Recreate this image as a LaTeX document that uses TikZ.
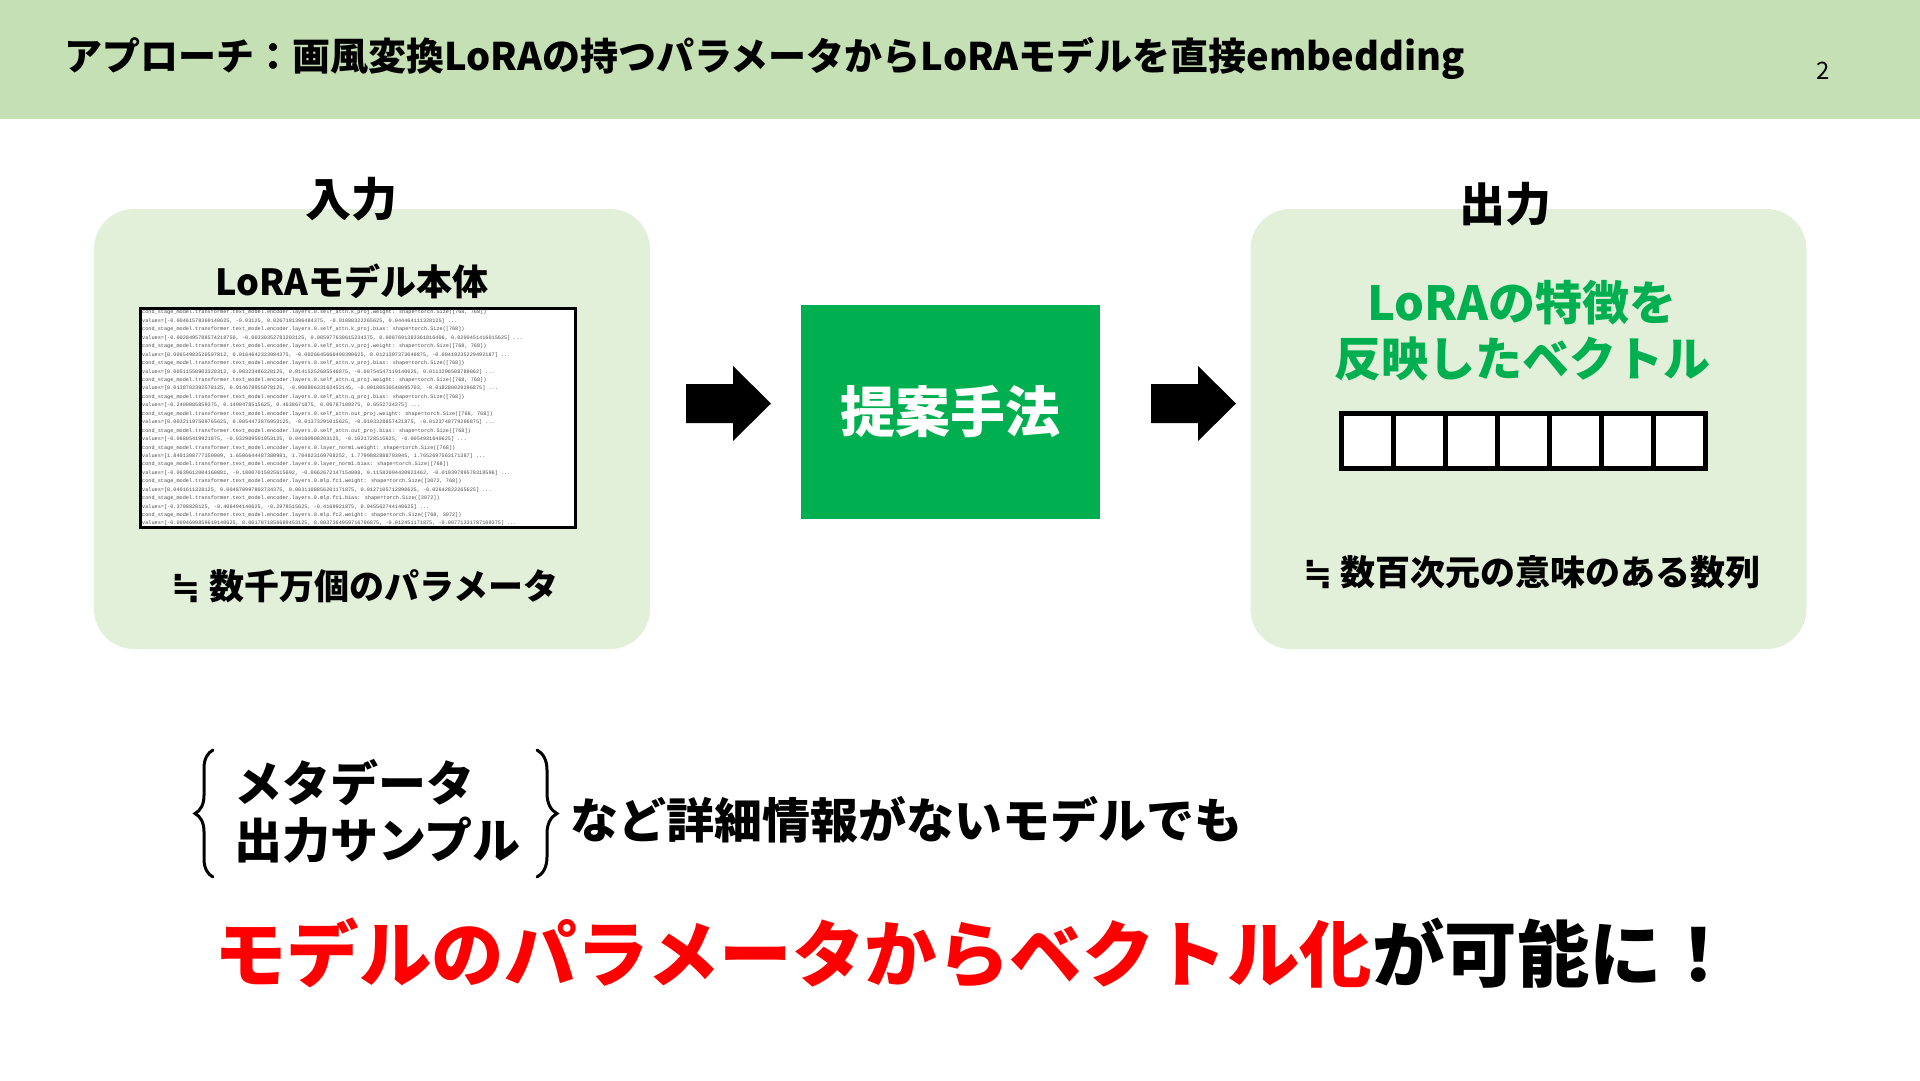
\documentclass[tikz,border=0pt]{standalone}
\usepackage{fontspec}
\setmainfont{Noto Sans CJK JP}
\newfontfamily\codefont{Liberation Mono}
\newfontfamily\symfont{DejaVu Sans}
\usetikzlibrary{decorations.pathreplacing,calc}
\definecolor{hdr}{HTML}{C5E0B4}
\definecolor{panelc}{HTML}{E2F0D9}
\definecolor{mgreen}{HTML}{00B050}
\definecolor{mred}{HTML}{FF0000}
\definecolor{codegray}{HTML}{4A4A4A}
\newcommand\fsz[1]{\fontsize{#1}{#1}\selectfont}
\newcommand\approxsym{{\symfont\bfseries ≒}}
\tikzset{
  panelbox/.style={fill=panelc, rounded corners=40, minimum width=556, minimum height=440, inner sep=0},
  heading/.style={font=\bfseries\fsz{46}, inner sep=0},
  subtext/.style={font=\bfseries\fsz{35}, inner sep=0},
  blockarrow/.style={fill=black},
  cellbox/.style={draw=black, line width=5, fill=white, minimum width=52.14, minimum height=55, inner sep=0},
  bracestyle/.style={line width=3, line cap=round, decorate},
}
\begin{document}
\begin{tikzpicture}[x=1pt,y=-1pt]
\useasboundingbox (0,0) rectangle (1920,1080);
\fill[white] (0,0) rectangle (1920,1080);
% header
\fill[hdr] (0,0) rectangle (1920,119);
\node[anchor=west, font=\bfseries\fsz{38}, inner sep=0] (title) at (64,58) {アプローチ：画風変換LoRAの持つパラメータからLoRAモデルを直接embedding};
\node[font=\fsz{24}, inner sep=0] (pnum) at (1823,71) {2};
% panels
\node[panelbox] (inpanel) at (372,429) {};
\node[panelbox] (outpanel) at (1528.5,429) {};
\node[heading] (inlabel) at (351,199) {入力};
\node[heading] (outlabel) at (1505,204) {出力};
% input contents
\node[font=\bfseries\fsz{36}, inner sep=0] (lorabody) at (352,281) {LoRAモデル本体};
\node[draw=black, line width=2, fill=white, minimum width=434, minimum height=218, inner sep=0] (code) at (358,418) {};
\begin{scope}
\clip (code.south west) rectangle (code.north east);
\node[anchor=north west, align=left, inner sep=0, text=codegray, font=\codefont\fontsize{5.2}{8.44}\selectfont] (codetext) at (142,310) {%
cond\_stage\_model.transformer.text\_model.encoder.layers.0.self\_attn.k\_proj.weight: shape=torch.Size([768, 768])\\
values=[-0.00461578369140625, -0.03125, 0.0267181396484375, -0.01080322265625, 0.044464111328125] ...\\
cond\_stage\_model.transformer.text\_model.encoder.layers.0.self\_attn.k\_proj.bias: shape=torch.Size([768])\\
values=[-0.0028495788574218750, -0.00330352783203125, 0.005977630615234375, 0.0007691383361816406, 0.0200451416015625] ...\\
cond\_stage\_model.transformer.text\_model.encoder.layers.0.self\_attn.v\_proj.weight: shape=torch.Size([768, 768])\\
values=[0.00654983520507812, 0.0164642333984375, -0.0026645660400390625, 0.0121307373046875, -0.00419235229492187] ...\\
cond\_stage\_model.transformer.text\_model.encoder.layers.0.self\_attn.v\_proj.bias: shape=torch.Size([768])\\
values=[0.00511550903320312, 0.00323486328125, 0.01415252685546875, -0.00754547119140625, 0.0113296508789062] ...\\
cond\_stage\_model.transformer.text\_model.encoder.layers.0.self\_attn.q\_proj.weight: shape=torch.Size([768, 768])\\
values=[0.0138702392578125, 0.014678955078125, -0.00080633163452145, -0.00180530548095703, -0.018280029296875] ...\\
cond\_stage\_model.transformer.text\_model.encoder.layers.0.self\_attn.q\_proj.bias: shape=torch.Size([768])\\
values=[-0.2400085859375, 0.1490478515625, 0.4638671875, 0.06787109375, 0.6552734375] ...\\
cond\_stage\_model.transformer.text\_model.encoder.layers.0.self\_attn.out\_proj.weight: shape=torch.Size([768, 768])\\
values=[0.00321197509765625, 0.0054473876953125, -0.01373291015625, -0.0193328857421875, -0.0123748779296875] ...\\
cond\_stage\_model.transformer.text\_model.encoder.layers.0.self\_attn.out\_proj.bias: shape=torch.Size([768])\\
values=[-0.06805419921875, -0.032989501953125, 0.04180908203125, -0.1021728515625, -0.0054931640625] ...\\
cond\_stage\_model.transformer.text\_model.encoder.layers.0.layer\_norm1.weight: shape=torch.Size([768])\\
values=[1.8401308777359009, 1.6506644487380981, 1.704823169708252, 1.7799882888793945, 1.7652697563171387] ...\\
cond\_stage\_model.transformer.text\_model.encoder.layers.0.layer\_norm1.bias: shape=torch.Size([768])\\
values=[-0.0639612004160881, -0.18007015025615692, -0.0662672147154808, 0.11582094430923462, -0.01939789578318596] ...\\
cond\_stage\_model.transformer.text\_model.encoder.layers.0.mlp.fc1.weight: shape=torch.Size([3072, 768])\\
values=[0.0401611328125, 0.004878997802734375, 0.0031108856201171875, 0.0127105712890625, -0.02642822265625] ...\\
cond\_stage\_model.transformer.text\_model.encoder.layers.0.mlp.fc1.bias: shape=torch.Size([3072])\\
values=[-0.3798828125, -0.406494140625, -0.2978515625, -0.4169921875, 0.045562744140625] ...\\
cond\_stage\_model.transformer.text\_model.encoder.layers.0.mlp.fc2.weight: shape=torch.Size([768, 3072])\\
values=[-0.0094699859619140625, 0.0017871856689453125, 0.0037364959716796875, -0.012451171875, -0.00771331787109375] ...};
\end{scope}
\draw[line width=2] (code.south west) rectangle (code.north east);
\node[subtext] (inparams) at (365,586) {\approxsym\ 数千万個のパラメータ};
% method
\node[fill=mgreen, minimum width=299, minimum height=214, inner sep=0, text=white, font=\bfseries\fsz{55}] (method) at (950.5,412) {提案手法};
% block arrows
\coordinate (a1) at (686,403.5);
\coordinate (a2) at (1151,403.5);
\foreach \c in {a1,a2}{
  \fill[blockarrow] (\c) ++(0,-19.5) -- ++(47,0) -- ++(0,-18) -- ++(38,37.5) -- ++(-38,37.5) -- ++(0,-18) -- ++(-47,0) -- cycle;
}
% output contents
\node[font=\bfseries\fsz{47}, text=mgreen, inner sep=0] (feat1) at (1522,303) {LoRAの特徴を};
\node[font=\bfseries\fsz{47}, text=mgreen, inner sep=0] (feat2) at (1522,359) {反映したベクトル};
\foreach \i in {0,...,6}{
  \node[cellbox] (cell\i) at ({1341+52.14*\i+26.07},440.5) {};
}
\node[subtext] (outnums) at (1532,572) {\approxsym\ 数百次元の意味のある数列};
% bottom
\node[anchor=west, font=\bfseries\fsz{48}, inner sep=0] (meta) at (234,783) {メタデータ};
\node[anchor=west, font=\bfseries\fsz{48}, inner sep=0] (samples) at (234,840) {出力サンプル};
\draw[bracestyle, decoration={brace, amplitude=18}] (213,877) -- (213,750);
\draw[bracestyle, decoration={brace, amplitude=20}] (537,750) -- (537,877);
\node[anchor=west, font=\bfseries\fsz{48}, inner sep=0] (nodetail) at (570,820) {など詳細情報がないモデルでも};
\node[anchor=west, font=\bfseries\fsz{72.5}, inner sep=0] (concl) at (214,953) {\textcolor{mred}{モデルのパラメータからベクトル化}が可能に！};
\end{tikzpicture}
\end{document}
